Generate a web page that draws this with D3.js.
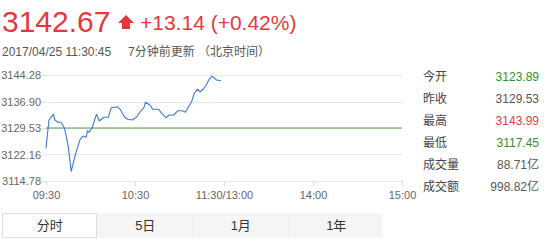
<!DOCTYPE html>
<html><head><meta charset="utf-8">
<script src="https://cdn.jsdelivr.net/npm/d3@7"></script>
<style>
body{margin:0;background:#fff;font-family:Arial,"Liberation Sans","Noto Sans CJK SC",sans-serif;}
svg{display:block}
</style></head>
<body><svg id="c" width="546" height="243"></svg>
<script>
const times = ["09:30","09:32","09:35","09:36","09:38","09:40","09:42","09:43","09:45","09:47","09:50","09:53","09:55","09:57","09:58","09:59","10:01","10:04","10:06","10:09","10:12","10:14","10:18","10:20","10:23","10:25","10:28","10:31","10:33","10:36","10:37","10:40","10:42","10:46","10:48","10:51","10:53","10:56","10:59","11:02","11:04","11:06","11:08","11:10","11:12","11:14","11:16","11:18","11:20","11:22","11:25","11:28"];
const prices = [3123.89,3131.76,3133.34,3131.76,3131.12,3131.12,3129.89,3128.50,3124.33,3117.45,3122.49,3126.38,3127.30,3126.94,3128.78,3128.33,3129.45,3133.34,3131.48,3132.51,3132.51,3135.18,3135.46,3134.73,3132.51,3131.95,3131.76,3132.51,3133.79,3135.18,3136.68,3135.93,3134.73,3134.73,3133.62,3132.40,3133.15,3133.15,3134.34,3134.34,3133.90,3135.46,3136.68,3139.19,3140.30,3139.63,3140.30,3141.50,3143.08,3143.99,3142.89,3142.67];
const yTicks = [3114.78,3122.16,3129.53,3136.90,3144.28];
const xTickLabels = ["09:30","10:30","11:30/13:00","14:00","15:00"];
const xTickTimes = ["09:30","10:30","11:30","14:00","15:00"];
const prevClose = 3129.53;
const statLabels = ["今开","昨收","最高","最低","成交量","成交额"];
const statValues = ["3123.89","3129.53","3143.99","3117.45","88.71亿","998.82亿"];
const statColors = ["#2f8f2f","#555","#e23a4c","#2f8f2f","#555","#555"];
const tabs = ["分时","5日","1月","1年"];
const header = {price:"3142.67", change:"+13.14 (+0.42%)", time:"2017/04/25 11:30:45", note:"7分钟前更新 （北京时间）"};

function tradeMin(t){const [h,m]=t.split(":").map(Number);const v=h*60+m;return v<=690?v-570:v-780+120;}

const svg = d3.select("#c");
const x = d3.scaleLinear().domain([0,240]).range([46,402]);
const y = d3.scaleLinear().domain([3114.78,3144.28]).range([181,75]);

// header
svg.append("text").attr("x",2).attr("y",32).attr("fill","#e4393c").attr("font-size",30).text(header.price);
svg.append("path").attr("d","M126,15 L134,23 L130,23 L130,29 L122,29 L122,23 L118,23 Z").attr("fill","#e4393c");
svg.append("text").attr("x",140).attr("y",30).attr("fill","#e4393c").attr("font-size",21).text(header.change);
svg.append("text").attr("x",2).attr("y",56).attr("fill","#555").attr("font-size",12).text(header.time);
svg.append("text").attr("x",128).attr("y",56).attr("fill","#555").attr("font-size",12).text(header.note);

// grid
const g = svg.append("g");
g.selectAll("line.grid").data(yTicks).join("line").attr("class","grid")
 .attr("x1",46).attr("x2",402).attr("y1",d=>Math.round(y(d))+0.5).attr("y2",d=>Math.round(y(d))+0.5)
 .attr("stroke","#e6e6e6");
// y axis
const yAxis = d3.axisLeft(y).tickValues(yTicks).tickSize(4).tickFormat(d3.format(".2f"));
const ya = svg.append("g").attr("transform","translate(46,0)").call(yAxis);
ya.select(".domain").remove();
ya.selectAll(".tick line").attr("stroke","#ddd");
ya.selectAll("text").attr("fill","#666").attr("font-size",11).attr("font-family","Arial,'Liberation Sans',sans-serif").attr("x",-5);
// x axis
const xa = svg.append("g").attr("transform","translate(0,181)")
 .call(d3.axisBottom(x).tickValues(xTickTimes.map(tradeMin)).tickSize(5).tickFormat((d,i)=>xTickLabels[i]));
xa.select(".domain").attr("stroke","#e6e6e6").attr("d","M46,0.5H402");
xa.selectAll(".tick line").attr("stroke","#ddd");
xa.selectAll("text").attr("fill","#666").attr("font-size",11).attr("font-family","Arial,'Liberation Sans',sans-serif").attr("dy","0.95em");

// prev close line
svg.append("line").attr("x1",46).attr("x2",402).attr("y1",y(prevClose)).attr("y2",y(prevClose)).attr("stroke","#5d9b4e").attr("stroke-width",1);

// price line
const line = d3.line().x((d,i)=>x(tradeMin(times[i]))).y(d=>y(d));
svg.append("path").datum(prices).attr("d",line).attr("fill","none").attr("stroke","#3c7ad6").attr("stroke-width",1.1).attr("stroke-linejoin","round");

// stats
const st = svg.append("g");
statLabels.forEach((l,i)=>{
  const yy = 81 + i*22;
  st.append("text").attr("x",423).attr("y",yy).attr("fill","#444").attr("font-size",12).text(l);
  st.append("text").attr("x",539).attr("y",yy).attr("text-anchor","end").attr("fill",statColors[i]).attr("font-size",12).text(statValues[i]);
});

// tabs
const tw = 95.5;
const tg = svg.append("g");
tg.append("rect").attr("x",97).attr("y",213).attr("width",286).attr("height",25).attr("fill","#f5f5f5");
tabs.forEach((t,i)=>{
  if(i===0) tg.append("rect").attr("x",2.5).attr("y",213.5).attr("width",94).attr("height",24).attr("fill","#fff").attr("stroke","#ddd");
  else if(i>1) tg.append("line").attr("x1",2+i*tw+0.5).attr("x2",2+i*tw+0.5).attr("y1",213).attr("y2",238).attr("stroke","#eee");
  tg.append("text").attr("x",2+i*tw+tw/2).attr("y",230).attr("text-anchor","middle").attr("fill","#333").attr("font-size",13).text(t);
});
</script></body></html>
